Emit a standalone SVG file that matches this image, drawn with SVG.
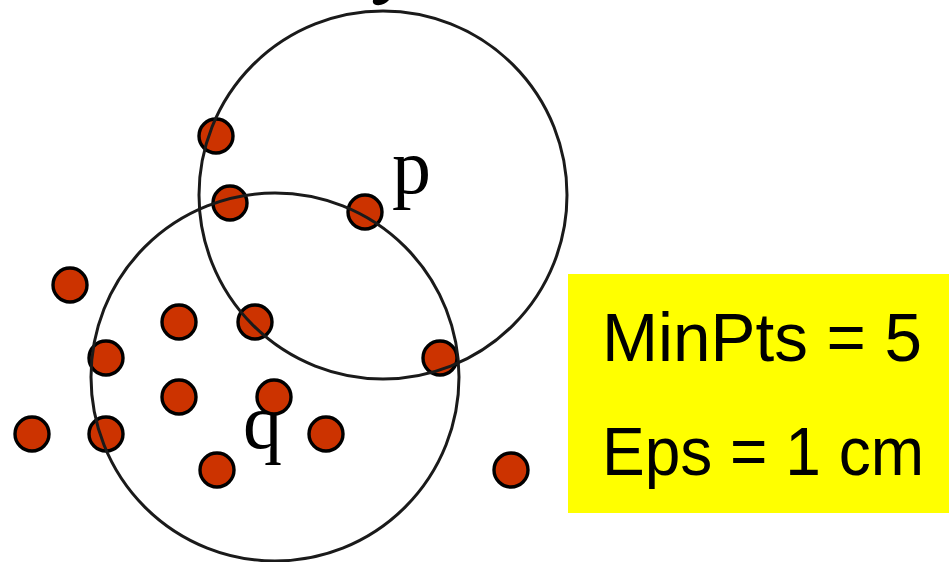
<svg xmlns="http://www.w3.org/2000/svg" width="949" height="562" viewBox="0 0 949 562">
<style>
.pt{fill:#CC3300;stroke:#000;stroke-width:3.4}
.ring{fill:none;stroke:#1a1a1a;stroke-width:3}
.lbl{font-family:"Liberation Serif","Times New Roman",serif;font-size:78px;fill:#000}
.box{fill:#FFFF00}
.bt{font-family:"Liberation Sans",Arial,sans-serif;font-size:68px;fill:#000}
</style>
<rect width="949" height="562" fill="#fff"/>
<path d="M373,0 L389,0 Q384,6 376,5 Q372,4 373,0 Z" fill="#000"/>
<g id="label-q"><text class="lbl" x="243" y="448">q</text></g>
<g id="points">
<g id="pt1"><circle class="pt" cx="216" cy="136" r="17"/></g>
<g id="pt2"><circle class="pt" cx="230" cy="203" r="17"/></g>
<g id="pt3"><circle class="pt" cx="365" cy="212" r="17"/></g>
<g id="pt4"><circle class="pt" cx="70" cy="285" r="17"/></g>
<g id="pt5"><circle class="pt" cx="179" cy="322" r="17"/></g>
<g id="pt6"><circle class="pt" cx="255" cy="322" r="17"/></g>
<g id="pt7"><circle class="pt" cx="106" cy="358" r="17"/></g>
<g id="pt8"><circle class="pt" cx="440" cy="358" r="17"/></g>
<g id="pt9"><circle class="pt" cx="179" cy="397" r="17"/></g>
<g id="pt10"><circle class="pt" cx="274" cy="397" r="17"/></g>
<g id="pt11"><circle class="pt" cx="32" cy="434" r="17"/></g>
<g id="pt12"><circle class="pt" cx="106" cy="434" r="17"/></g>
<g id="pt13"><circle class="pt" cx="326" cy="434" r="17"/></g>
<g id="pt14"><circle class="pt" cx="217" cy="470" r="17"/></g>
<g id="pt15"><circle class="pt" cx="511" cy="470" r="17"/></g>
</g>
<g id="neighborhoods">
<circle class="ring" cx="383" cy="195" r="184"/>
<circle class="ring" cx="275" cy="377" r="184"/>
</g>
<g id="label-p"><text class="lbl" x="392" y="193">p</text></g>
<g id="params">
<rect class="box" x="568" y="274" width="381" height="239"/>
<text class="bt" x="602" y="361" textLength="320" lengthAdjust="spacingAndGlyphs">MinPts = 5</text>
<text class="bt" x="602" y="475" textLength="322" lengthAdjust="spacingAndGlyphs">Eps = 1 cm</text>
</g>
</svg>
